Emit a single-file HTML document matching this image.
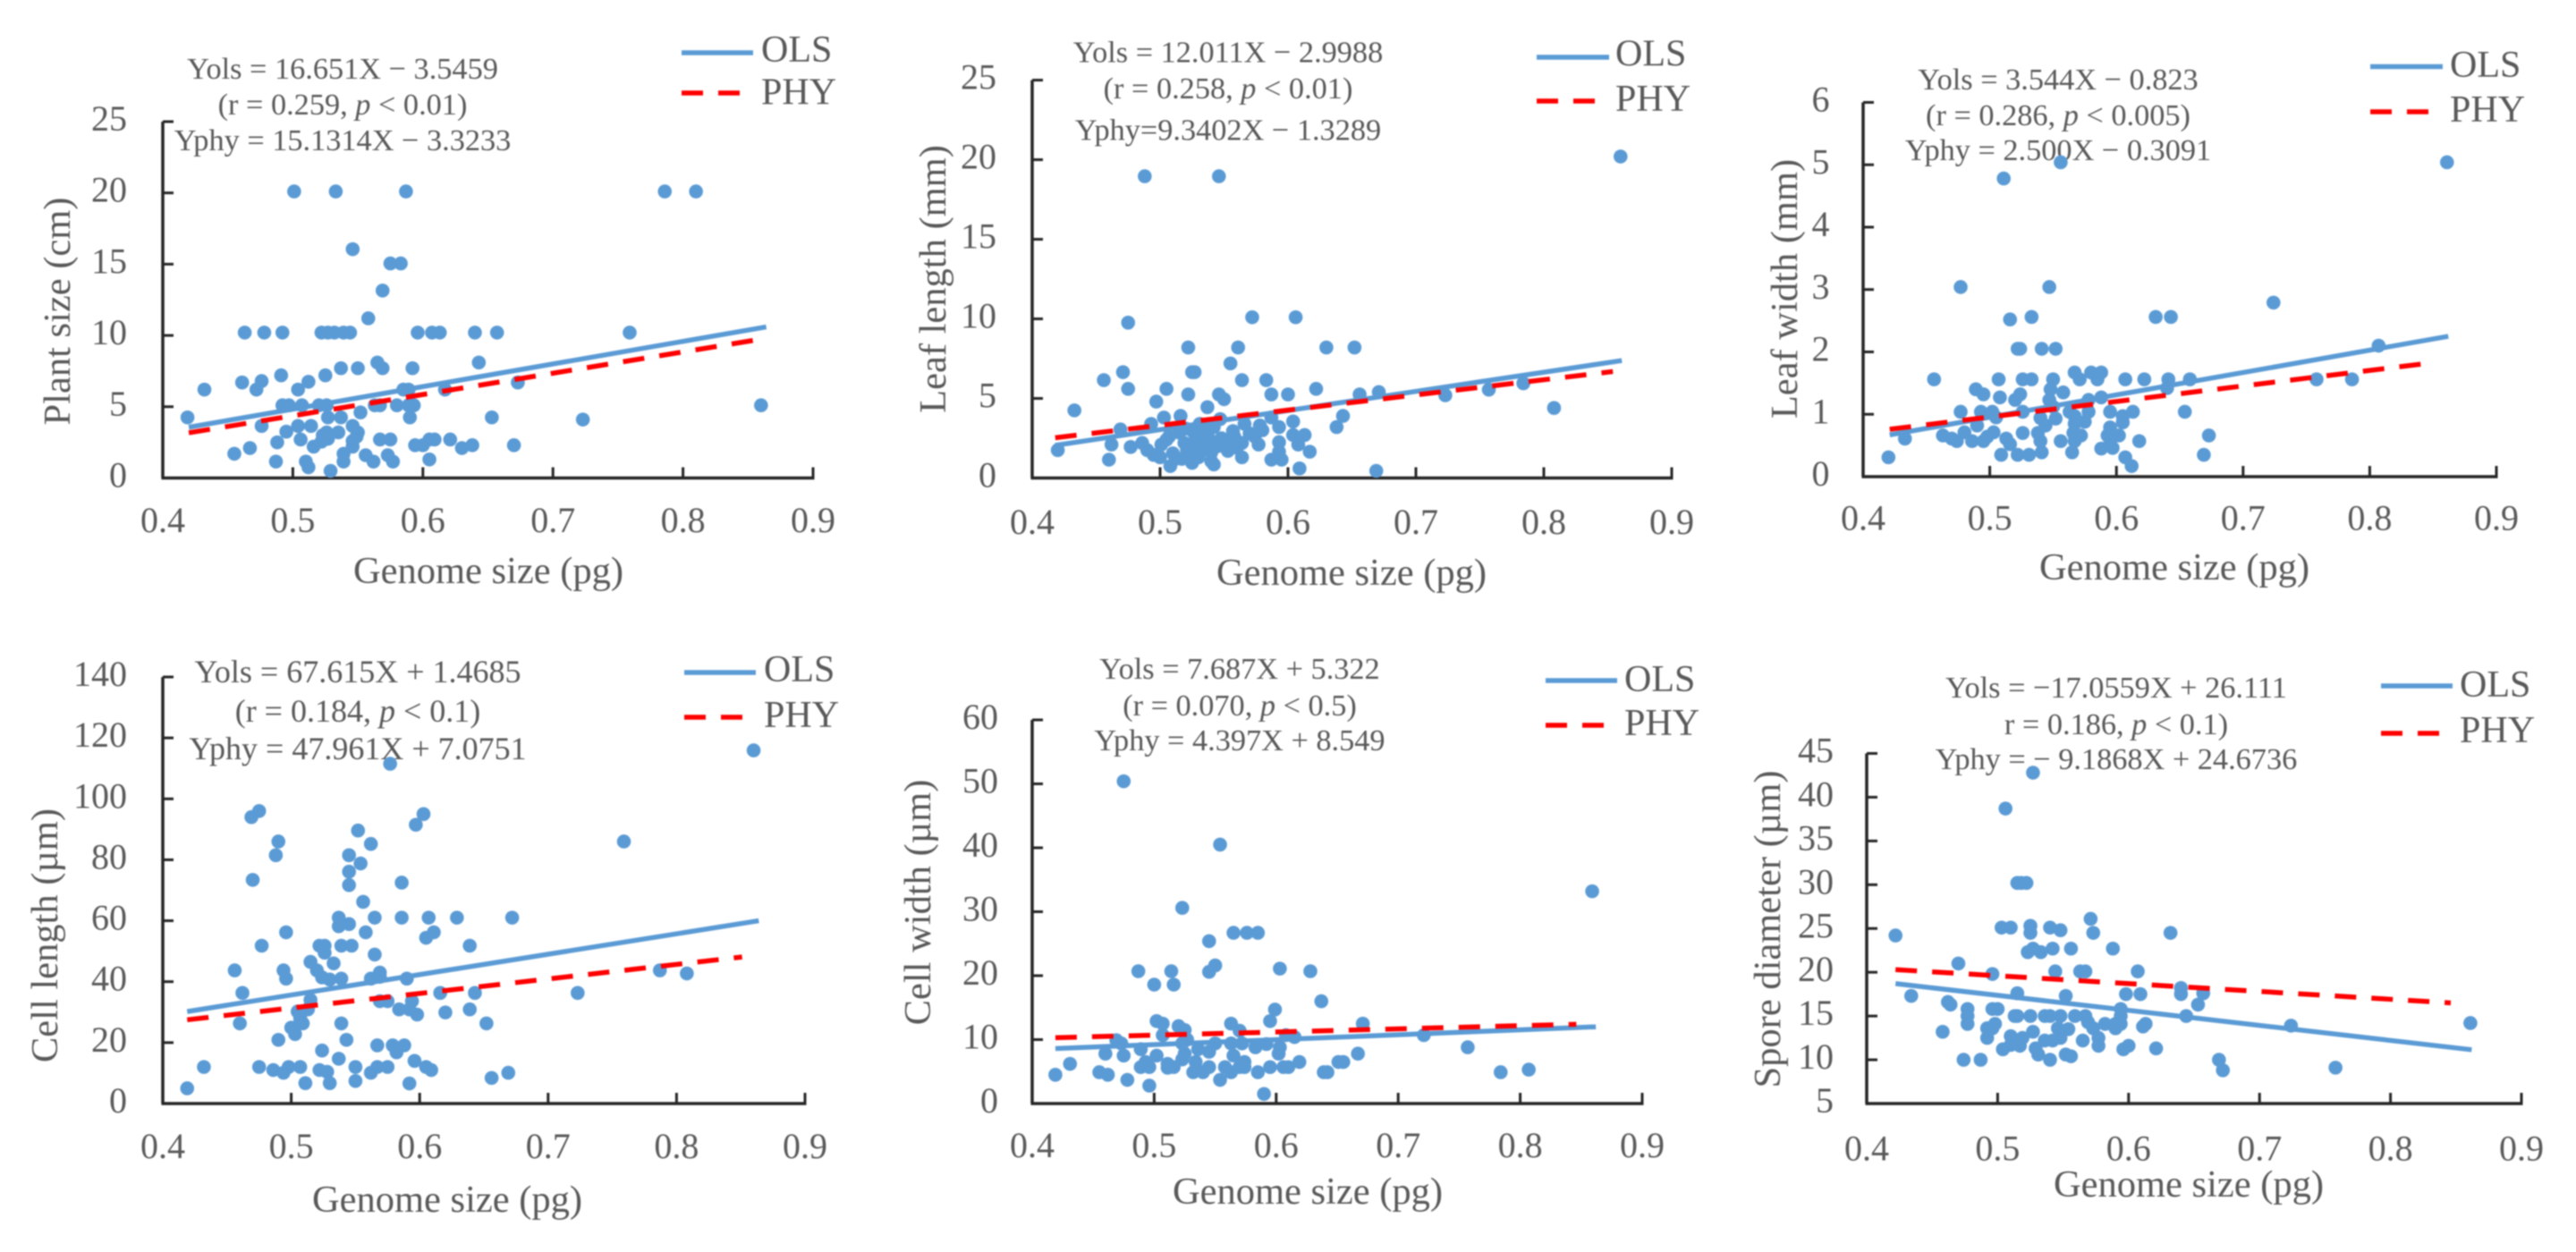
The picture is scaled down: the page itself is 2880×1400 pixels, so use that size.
<!DOCTYPE html>
<html lang="en">
<head>
<meta charset="utf-8">
<title>Genome size regressions</title>
<style>
html,body{margin:0;padding:0;background:#fff;width:2880px;height:1400px;overflow:hidden}
svg{display:block;filter:blur(0.7px)}
text{font-family:"Liberation Serif",serif;fill:#595959}
.note{font-size:34.3px;text-anchor:middle}
.note-large{font-size:36px}
.legend{font-size:42px}
.title{font-size:42.5px;text-anchor:middle}
.tick{font-size:40px}
</style>
</head>
<body>
<svg id="figure" xmlns="http://www.w3.org/2000/svg" width="2880" height="1400" viewBox="0 0 2880 1400">
<rect width="2880" height="1400" fill="#fff"/>

<g id="plant">
  <text class="title" x="546" y="652">Genome size (pg)</text>
  <text class="title" transform="translate(78 348) rotate(-90)">Plant size (cm)</text>
  <g>
    <text class="note" x="383" y="88">Yols = 16.651X − 3.5459</text>
    <text class="note" x="383" y="128">(r = 0.259, <tspan font-style="italic">p</tspan> &lt; 0.01)</text>
    <text class="note" x="383" y="168">Yphy = 15.1314X − 3.3233</text>
  </g>
  <g>
    <line x1="762" x2="842" y1="59" y2="59" stroke="#5B9BD5" stroke-width="5.5"/>
    <text class="legend" x="851" y="69">OLS</text>
    <line x1="762" x2="827" y1="104" y2="104" stroke="#FF0000" stroke-width="5.5" stroke-dasharray="24 17"/>
    <text class="legend" x="851" y="116.5">PHY</text>
  </g>
</g>

<g id="leafLength">
  <text class="title" x="1511" y="654">Genome size (pg)</text>
  <text class="title" transform="translate(1057 312) rotate(-90)">Leaf length (mm)</text>
  <g>
    <text class="note" x="1373" y="69.5">Yols = 12.011X − 2.9988</text>
    <text class="note" x="1373" y="110">(r = 0.258, <tspan font-style="italic">p</tspan> &lt; 0.01)</text>
    <text class="note" x="1373" y="156.5">Yphy=9.3402X − 1.3289</text>
  </g>
  <g>
    <line x1="1718" x2="1799" y1="64" y2="64" stroke="#5B9BD5" stroke-width="5.5"/>
    <text class="legend" x="1806" y="73.6">OLS</text>
    <line x1="1718" x2="1783" y1="113" y2="113" stroke="#FF0000" stroke-width="5.5" stroke-dasharray="24 17"/>
    <text class="legend" x="1806" y="124">PHY</text>
  </g>
</g>

<g id="leafWidth">
  <text class="title" x="2431" y="648">Genome size (pg)</text>
  <text class="title" transform="translate(2009 323) rotate(-90)">Leaf width (mm)</text>
  <g>
    <text class="note" x="2301" y="100">Yols = 3.544X − 0.823</text>
    <text class="note" x="2301" y="140">(r = 0.286, <tspan font-style="italic">p</tspan> &lt; 0.005)</text>
    <text class="note" x="2301" y="179">Yphy = 2.500X − 0.3091</text>
  </g>
  <g>
    <line x1="2650" x2="2731" y1="74.5" y2="74.5" stroke="#5B9BD5" stroke-width="5.5"/>
    <text class="legend" x="2739" y="86">OLS</text>
    <line x1="2650" x2="2715" y1="125" y2="125" stroke="#FF0000" stroke-width="5.5" stroke-dasharray="24 17"/>
    <text class="legend" x="2739" y="136">PHY</text>
  </g>
</g>

<g id="cellLength">
  <text class="title" x="500" y="1355">Genome size (pg)</text>
  <text class="title" transform="translate(64 1046) rotate(-90)">Cell length (µm)</text>
  <g>
    <text class="note note-large" x="400" y="763">Yols = 67.615X + 1.4685</text>
    <text class="note note-large" x="400" y="807">(r = 0.184, <tspan font-style="italic">p</tspan> &lt; 0.1)</text>
    <text class="note note-large" x="400" y="849">Yphy = 47.961X + 7.0751</text>
  </g>
  <g>
    <line x1="765" x2="845" y1="752" y2="752" stroke="#5B9BD5" stroke-width="5.5"/>
    <text class="legend" x="854" y="762">OLS</text>
    <line x1="765" x2="830" y1="802" y2="802" stroke="#FF0000" stroke-width="5.5" stroke-dasharray="24 17"/>
    <text class="legend" x="854" y="813">PHY</text>
  </g>
</g>

<g id="cellWidth">
  <text class="title" x="1462" y="1346">Genome size (pg)</text>
  <text class="title" transform="translate(1040 1009) rotate(-90)">Cell width (µm)</text>
  <g>
    <text class="note" x="1386" y="759">Yols = 7.687X + 5.322</text>
    <text class="note" x="1386" y="800">(r = 0.070, <tspan font-style="italic">p</tspan> &lt; 0.5)</text>
    <text class="note" x="1386" y="839">Yphy = 4.397X + 8.549</text>
  </g>
  <g>
    <line x1="1728" x2="1808" y1="761" y2="761" stroke="#5B9BD5" stroke-width="5.5"/>
    <text class="legend" x="1816" y="773">OLS</text>
    <line x1="1728" x2="1793" y1="811" y2="811" stroke="#FF0000" stroke-width="5.5" stroke-dasharray="24 17"/>
    <text class="legend" x="1816" y="822">PHY</text>
  </g>
</g>

<g id="spore">
  <text class="title" x="2447" y="1338">Genome size (pg)</text>
  <text class="title" transform="translate(1990 1039) rotate(-90)">Spore diameter (µm)</text>
  <g>
    <text class="note" x="2366" y="780">Yols = −17.0559X + 26.111</text>
    <text class="note" x="2366" y="821">r = 0.186, <tspan font-style="italic">p</tspan> &lt; 0.1)</text>
    <text class="note" x="2366" y="860">Yphy = − 9.1868X + 24.6736</text>
  </g>
  <g>
    <line x1="2662" x2="2742" y1="767" y2="767" stroke="#5B9BD5" stroke-width="5.5"/>
    <text class="legend" x="2750" y="779">OLS</text>
    <line x1="2662" x2="2727" y1="820" y2="820" stroke="#FF0000" stroke-width="5.5" stroke-dasharray="24 17"/>
    <text class="legend" x="2750" y="830">PHY</text>
  </g>
</g>
</svg>

<script>
const xTicks = [0.4, 0.5, 0.6, 0.7, 0.8, 0.9];
const xTickLabels = ['0.4', '0.5', '0.6', '0.7', '0.8', '0.9'];

const plantYTicks = [0, 5, 10, 15, 20, 25];
const leafLengthYTicks = [0, 5, 10, 15, 20, 25];
const leafWidthYTicks = [0, 1, 2, 3, 4, 5, 6];
const cellLengthYTicks = [0, 20, 40, 60, 80, 100, 120, 140];
const cellWidthYTicks = [0, 10, 20, 30, 40, 50, 60];
const sporeYTicks = [5, 10, 15, 20, 25, 30, 35, 40, 45];

const plantX = [
.501,.533,.587,.786,.81,.546,.575,.583,.569,.558,
.463,.478,.492,.522,.527,.532,.539,.544,.596,.607,.613,.640,.657,.759,
.643,.565,.569,.537,.55,.592,.491,.525,.461,.476,.512,.673,.432,.472,.504,.585,.589,.617,
.492,.497,.507,.52,.526,.563,.567,.58,.589,.593,.86,
.419,.527,.537,.552,.59,.653,.723,
.476,.504,.514,.546,
.495,.526,.535,.55,.523,.549,
.506,.567,.575,.605,.609,.621,.546,.527,.522,
.488,.516,.546,.594,.6,.63,.638,.67,.467,.455,.539,.556,.573,
.487,.51,.539,.562,.577,.605,.512,.529];
const plantY = [
20.1,20.1,20.1,20.1,20.1,16.05,15.05,15.05,13.15,11.2,
10.2,10.2,10.2,10.2,10.2,10.2,10.2,10.2,10.2,10.2,10.2,10.2,10.2,10.2,
8.1,8.1,7.7,7.7,7.7,7.7,7.2,7.2,6.7,6.8,6.75,6.7,6.2,6.2,6.2,6.2,6.2,6.2,
5.1,5.1,5.1,5.1,5.1,5.1,5.1,5.1,5.1,5.1,5.1,
4.25,4.25,4.25,4.6,4.25,4.25,4.1,
3.65,3.65,3.65,3.65,
3.25,3.2,3.2,3.2,3,2.9,
2.7,2.7,2.7,2.7,2.7,2.7,2.6,2.75,2.55,
2.5,2.2,2.2,2.3,2.3,2.1,2.3,2.3,2.1,1.7,1.7,1.6,1.6,
1.15,1.15,1.15,1.15,1.15,1.3,.75,.5];
const plantOlsX = [.42, .864];
const plantOlsY = [3.56, 10.6];
const plantPhyX = [.42, .864];
const plantPhyY = [3.17, 9.8];

const leafLengthX = [
.86,.488,.546,.475,.572,.606,.522,.561,.63,.652,
.555,.471,.525,.527,.456,.564,.583,.475,.505,.622,
.522,.546,.55,.587,.6,.656,.671,.723,.757,.784,
.497,.433,.537,.808,.643,.516,.503,.638,.493,.604,
.531,.547,.566,.587,.593,.469,.578,.557,
.462,.477,.486,.49,.495,.501,.507,.51,.508,.515,
.517,.521,.525,.528,.532,.538,.54,.542,.545,.551,
.56,.564,.564,.577,.574,.587,.593,.593,.595,.604,
.608,.613,.617,.609,.669,.42,.46,
.5,.505,.512,.519,.523,.527,.53,.535,.54,.548,.553,.558,.57,.58,.52,.526,.535,.542];
const leafLengthY = [
20.2,18.96,18.96,9.76,10.1,10.1,8.2,8.2,8.2,8.2,
7.2,6.65,6.65,6.65,6.15,6.15,6.15,5.6,5.6,5.6,
5.25,5.25,4.95,5.25,5.25,5.25,5.4,5.2,5.55,5.95,
4.8,4.25,4.45,4.4,3.9,3.9,3.8,3.2,3.4,3.55,
3.4,3.7,3.4,3.8,3.2,3.05,3.3,2.95,
2.1,1.95,2.2,1.75,1.45,2.1,2.6,1.55,.75,2.85,
1.2,1.75,.95,2.6,1.75,2.5,1.05,.85,2,2,
1.9,1.3,2.2,2.1,2.6,1.15,2.25,1.65,1.15,2.7,
2.1,2.7,1.65,.6,.45,1.75,1.15,
1.3,2.4,1.2,2.2,1.4,2,1.3,2.2,1.6,2.5,1.7,2.6,2.8,3,3.1,2.9,2.9,3.2];
const leafLengthOlsX = [.418, .861];
const leafLengthOlsY = [2.05, 7.38];
const leafLengthPhyX = [.418, .854];
const leafLengthPhyY = [2.53, 6.69];

const leafWidthX = [
.861,.556,.511,.477,.547,.724,.516,.533,.631,.643,.522,.524,.541,.552,.807,
.456,.507,.526,.533,.55,.571,.585,.607,.622,.641,.658,.758,.786,
.567,.58,.588,.489,.495,.548,.558,.64,.508,.524,.52,.547,.588,.578,.55,
.477,.493,.502,.526,.563,.578,.595,.613,.654,
.505,.605,.54,.552,.567,.605,.575,.49,.544,.595,.567,
.48,.503,.526,.538,.463,.433,.593,.602,.673,.572,.566,.498,
.47,.474,.486,.495,.513,.556,.567,.618,.54,.516,.595,.588,.597,.541,.565,.509,.522,.531,.669,.42,.607,.612];
const leafWidthY = [
5.04,5.04,4.78,3.04,3.04,2.79,2.52,2.56,2.56,2.56,2.05,2.05,2.05,2.05,2.1,
1.56,1.56,1.56,1.56,1.56,1.56,1.56,1.56,1.56,1.56,1.56,1.56,1.56,
1.67,1.67,1.67,1.4,1.32,1.4,1.35,1.42,1.27,1.32,1.23,1.23,1.27,1.23,1.12,
1.04,1.04,1.04,1.04,1.04,1.04,1.04,1.04,1.04,
.95,.97,.94,.93,.97,.87,.88,.82,.82,.79,.85,
.71,.71,.7,.7,.66,.61,.66,.66,.66,.66,.7,.64,
.61,.57,.57,.57,.61,.57,.57,.57,.57,.52,.52,.45,.46,.39,.39,.35,.35,.35,.35,.31,.31,.17];
const leafWidthOlsX = [.421, .862];
const leafWidthOlsY = [.67, 2.25];
const leafWidthPhyX = [.421, .851];
const leafWidthPhyY = [.76, 1.83];

const cellLengthX = [
.86,.577,.469,.475,.603,.597,.552,.49,.562,.759,.488,.545,.554,.545,.545,.47,.586,.556,
.537,.565,.586,.607,.629,.672,
.537,.545,.496,.558,.611,.605,.477,.522,.526,.539,.547,.639,.526,.565,.515,.533,.52,.456,.494,.569,.524,.496,.53,.539,.562,.569,.59,.787,.808,
.462,.515,.569,.575,.616,.643,.723,.594,.584,.592,.513,.639,.505,.598,.62,.507,.509,.46,.539,.652,.5,.503,.49,.543,.567,.579,.588,.582,.524,.537,.596,
.432,.475,.498,.507,.55,.567,.575,.605,
.486,.494,.522,.528,.609,.562,.669,.656,.511,.53,.55,.592,.419];
const cellLengthY = [
115.9,111.5,94,96,95,91.5,89.6,86,85.2,86,81.5,81.5,78.8,76.1,71.7,73.4,72.5,66.2,
61,61,61,61,61,61,
58.2,58.9,56.2,56.2,56.2,54.4,51.8,51.8,51.8,51.8,51.8,51.8,49.5,48.9,46.5,46,43.7,43.7,43.7,43,41.4,41,40.7,41,41,41.6,41,43.7,42.7,
36.3,34,33.6,33.6,36.3,36.3,36.3,33.6,30.9,30.9,30.9,30.9,30.2,29.2,29.9,27.9,26.3,26.3,26.3,26.3,24.9,22.8,20.9,20.9,19.1,19.1,19.1,16.8,17.4,14.7,14,
12,12,12,12,12,12,12,12,
11,10.1,11,10.4,11,10.1,10.1,8.4,6.7,6.7,7.4,6.6,5];
const cellLengthOlsX = [.419, .864];
const cellLengthOlsY = [30.2, 60];
const cellLengthPhyX = [.419, .851];
const cellLengthPhyY = [27.5, 48.1];

const cellWidthX = [
.475,.554,.859,.523,.565,.576,.585,.545,.55,.545,.487,.514,.603,.628,.5,.516,.637,.599,.595,.502,.507,.52,.563,.671,.525,.57,.507,.721,.608,.615,
.469,.473,.527,.523,.55,.563,.572,.583,.592,.603,.757,
.489,.46,.502,.525,.545,.536,.565,.602,.667,.475,.523,
.431,.493,.511,.534,.574,.619,.651,.655,
.489,.496,.511,.516,.545,.558,.57,.574,.595,.606,.61,.532,.54,.563,.585,.455,.639,.642,.784,.807,.419,.462,.478,.554,.496,.59];
const cellWidthY = [
50.4,40.5,33.2,30.6,26.7,26.7,26.7,25.4,21.6,20.6,20.7,20.7,21.1,20.7,18.6,18.6,16,14.7,12.9,12.9,12.5,12.1,12.5,12.5,11.5,11.4,10.7,10.7,10.7,10.4,
9.9,9.4,10,9.4,9.4,9.4,9.4,8.8,9.3,8.8,8.8,
8.5,7.8,7.5,7.8,8.1,8.5,7.5,7.8,7.8,7.5,6.9,
6.2,6.5,6.2,6.5,6.5,6.5,6.5,6.5,
5.7,5.7,5.6,5.7,5.7,5.7,5.7,5.7,5.7,5.7,5.7,4.9,4.9,4.9,4.9,4.9,4.9,4.9,4.9,5.3,4.5,4.5,3.7,3.7,2.8,1.5];
const cellWidthOlsX = [.419, .862];
const cellWidthOlsY = [8.6, 12];
const cellWidthPhyX = [.419, .846];
const cellWidthPhyY = [10.3, 12.4];

const sporeX = [
.527,.506,.515,.518,.522,.571,.422,.503,.51,.525,.525,.54,.548,.573,.632,
.523,.527,.533,.542,.556,.588,.47,.544,.563,.567,.607,.496,.64,.64,.515,.434,.552,.598,.609,.657,.462,.464,.653,
.477,.496,.5,.594,.477,.513,.515,.525,.536,.54,.548,.559,.567,.594,.644,
.569,.477,.498,.582,.59,.594,.613,.724,.861,.492,.496,.546,.554,.573,.59,.611,.458,.527,
.51,.492,.519,.548,.577,.536,.542,.565,.51,.577,.504,.517,.529,.596,.6,.621,
.531,.552,.556,.474,.487,.54,.669,.672,.758];
const sporeY = [
42.8,38.7,30.2,30.2,30.2,26.1,24.2,25.1,25.1,25.3,24.5,25.1,24.8,24.5,24.5,
22.3,22.7,22.3,22.7,22.7,22.7,21,20.1,20.1,20.1,20.1,19.8,18.2,17.5,17.6,17.3,17.3,17.5,17.5,17.6,16.6,16.3,16.3,
15.8,15.8,15.8,15.8,15,15,15,15,15,15,15,15,15,15,15,
14.3,14.1,14.1,14.1,14.1,14.1,14.1,13.9,14.2,13.6,13.6,13.6,13.5,13.6,13.6,13.8,13.2,13.2,
12.7,12.5,12.5,12.5,12.5,12.2,12.2,12.2,11.7,11.6,11.2,11.6,11.3,11.2,11.6,11.3,
10.6,10.6,10.4,10,10,10,10,8.8,9.1];
const sporeOlsX = [.422, .862];
const sporeOlsY = [18.7, 11.15];
const sporePhyX = [.422, .846];
const sporePhyY = [20.3, 16.5];

const SVG_NS = 'http://www.w3.org/2000/svg';
const AXIS_COLOR = '#262626';
const DOT_COLOR = '#5B9BD5';
const RED = '#FF0000';

function make(tag, parent, attrs) {
  const node = document.createElementNS(SVG_NS, tag);
  for (const key in attrs) node.setAttribute(key, attrs[key]);
  parent.appendChild(node);
  return node;
}

function drawPanel(cfg) {
  const root = document.getElementById(cfg.id);
  const yDomainMin = cfg.yTicks[0];
  const yDomainMax = cfg.yTicks[cfg.yTicks.length - 1];
  const sx = v => cfg.left + (v - xTicks[0]) / (xTicks[xTicks.length - 1] - xTicks[0]) * (cfg.right - cfg.left);
  const sy = v => cfg.bottom - (v - yDomainMin) / (yDomainMax - yDomainMin) * (cfg.bottom - cfg.top);

  const yAxis = make('line', root, {x1: cfg.left, x2: cfg.left, y1: cfg.top, y2: cfg.bottom, stroke: AXIS_COLOR, 'stroke-width': 3.5});
  
  
  const xAxis = make('line', root, {x1: cfg.left - 1.5, x2: cfg.right + 1.5, y1: cfg.bottom, y2: cfg.bottom, stroke: AXIS_COLOR, 'stroke-width': 3.5});
  
  

  cfg.yTicks.forEach(v => {
    const mark = make('line', root, {x1: cfg.left, x2: cfg.left + 12, y1: sy(v), y2: sy(v), stroke: AXIS_COLOR, 'stroke-width': 3});
    
    
    const label = make('text', root, {class: 'tick', x: cfg.yLabelRight, y: sy(v) + 10, 'text-anchor': 'end'});
    label.textContent = String(v);
    
    
  });

  xTicks.forEach((v, i) => {
    if (i > 0) {
      const mark = make('line', root, {x1: sx(v), x2: sx(v), y1: cfg.bottom, y2: cfg.bottom - 12, stroke: AXIS_COLOR, 'stroke-width': 3});
      
      
    }
    const label = make('text', root, {class: 'tick', x: sx(v), y: cfg.xLabelBase, 'text-anchor': 'middle'});
    label.textContent = xTickLabels[i];
    
    
  });

  const count = Math.min(cfg.xs.length, cfg.ys.length);
  for (let i = 0; i < count; i++) {
    const dot = make('circle', root, {cx: sx(cfg.xs[i]), cy: sy(cfg.ys[i]), r: 7.8, fill: DOT_COLOR});
    
    
  }

  const ols = make('line', root, {x1: sx(cfg.olsX[0]), x2: sx(cfg.olsX[1]), y1: sy(cfg.olsY[0]), y2: sy(cfg.olsY[1]), stroke: DOT_COLOR, 'stroke-width': 5.5});
  
  
  const phy = make('line', root, {x1: sx(cfg.phyX[0]), x2: sx(cfg.phyX[1]), y1: sy(cfg.phyY[0]), y2: sy(cfg.phyY[1]), stroke: RED, 'stroke-width': 5.5, 'stroke-dasharray': '24 17'});
  
  
}

drawPanel({id: 'plant', left: 182, right: 909, bottom: 534.5, top: 136, yLabelRight: 142, xLabelBase: 595,
  yTicks: plantYTicks, xs: plantX, ys: plantY, olsX: plantOlsX, olsY: plantOlsY, phyX: plantPhyX, phyY: plantPhyY});
drawPanel({id: 'leafLength', left: 1154, right: 1869, bottom: 534.5, top: 89.6, yLabelRight: 1114, xLabelBase: 597,
  yTicks: leafLengthYTicks, xs: leafLengthX, ys: leafLengthY, olsX: leafLengthOlsX, olsY: leafLengthOlsY, phyX: leafLengthPhyX, phyY: leafLengthPhyY});
drawPanel({id: 'leafWidth', left: 2083, right: 2791, bottom: 533, top: 114.5, yLabelRight: 2045.5, xLabelBase: 592.6,
  yTicks: leafWidthYTicks, xs: leafWidthX, ys: leafWidthY, olsX: leafWidthOlsX, olsY: leafWidthOlsY, phyX: leafWidthPhyX, phyY: leafWidthPhyY});
drawPanel({id: 'cellLength', left: 182, right: 900, bottom: 1234, top: 757, yLabelRight: 142, xLabelBase: 1295,
  yTicks: cellLengthYTicks, xs: cellLengthX, ys: cellLengthY, olsX: cellLengthOlsX, olsY: cellLengthOlsY, phyX: cellLengthPhyX, phyY: cellLengthPhyY});
drawPanel({id: 'cellWidth', left: 1154, right: 1836, bottom: 1234, top: 805, yLabelRight: 1116, xLabelBase: 1294,
  yTicks: cellWidthYTicks, xs: cellWidthX, ys: cellWidthY, olsX: cellWidthOlsX, olsY: cellWidthOlsY, phyX: cellWidthPhyX, phyY: cellWidthPhyY});
drawPanel({id: 'spore', left: 2087, right: 2819, bottom: 1234, top: 842.5, yLabelRight: 2050, xLabelBase: 1297.5,
  yTicks: sporeYTicks, xs: sporeX, ys: sporeY, olsX: sporeOlsX, olsY: sporeOlsY, phyX: sporePhyX, phyY: sporePhyY});
</script>
</body>
</html>
